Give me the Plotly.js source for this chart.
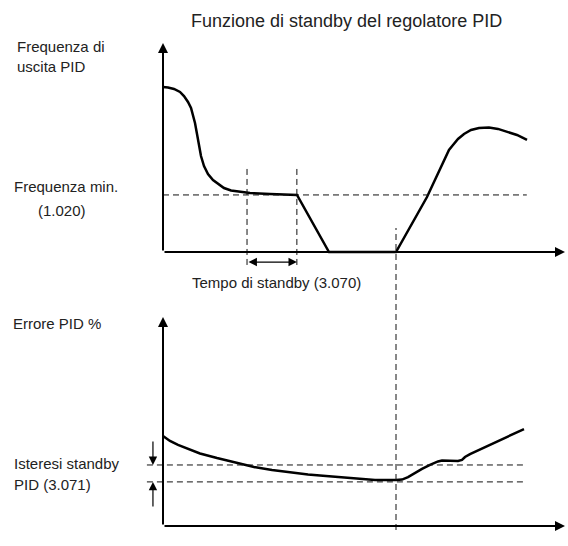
<!DOCTYPE html>
<html>
<head>
<meta charset="utf-8">
<script src="https://cdn.plot.ly/plotly-3.0.1.min.js"></script>
<style>html,body{margin:0;padding:0;background:#fff;}#chart{width:568px;height:546px;}</style>
</head>
<body>
<div id="chart"></div>
<script>
// ---- Data (abstract time units 0..100, values 0..100) ----
const freqTime = [0, 1.24, 2.74, 4.23, 5.22, 6.22, 6.97, 7.46, 7.96, 8.46, 8.96, 9.45, 10.2, 11.19, 12.44, 13.68, 15.17, 16.92, 19.15, 21.64, 26.62, 33.33, 41.29, 57.96, 65.67, 71.14, 72.14, 73.38, 74.88, 76.62, 78.61, 81.09, 83.33, 85.57, 88.06, 90.55];
const freqValue = [78.9, 78.7, 78.0, 76.6, 74.6, 71.8, 68.9, 65.6, 61.7, 56.5, 50.7, 45.9, 41.1, 37.3, 34.4, 32.5, 30.6, 29.4, 28.7, 28.2, 27.8, 27.3, 0, 0, 26.3, 48.8, 51.2, 54.1, 56.5, 58.4, 59.3, 59.6, 58.9, 57.7, 56.0, 53.6];

const errTime = [0, 1.74, 3.73, 6.22, 9.2, 13.43, 17.91, 22.64, 27.11, 31.59, 36.07, 40.55, 45.02, 49.5, 52.74, 57.96, 59.45, 60.95, 62.69, 64.43, 66.42, 68.41, 69.4, 71.39, 73.38, 74.38, 75.12, 76.37, 80.1, 83.83, 86.82, 89.8];
const errValue = [43.1, 40.7, 38.8, 36.8, 34.7, 32.5, 30.4, 28.2, 26.8, 25.6, 24.6, 23.9, 23.2, 22.5, 22.0, 22.0, 22.2, 23.4, 25.4, 27.3, 29.2, 30.9, 31.3, 31.3, 31.1, 31.6, 33.0, 34.4, 37.8, 41.1, 43.8, 46.4];

const freqMin = 27.3;          // Frequenza min. (1.020)
const standbyStart = 20.9;     // start of standby time
const standbyEnd = 33.3;       // end of standby time (3.070)
const wakeTime = 57.96;        // wake-up instant
const hystUpper = 29.2;        // upper hysteresis level
const hystLower = 21.1;        // lower hysteresis level (3.071)
const lineEnd = 90.5;

const labels = {
  title: "Funzione di standby del regolatore PID",
  freqAxis1: "Frequenza di",
  freqAxis2: "uscita PID",
  fmin1: "Frequenza min.",
  fmin2: "(1.020)",
  standby: "Tempo di standby (3.070)",
  errAxis: "Errore PID %",
  hyst1: "Isteresi standby",
  hyst2: "PID (3.071)"
};

// ---- Layout geometry ----
const W = 568, H = 546;
const pxPerT = 4.02, x0px = 163;
const xRange = [-x0px / pxPerT, (W - x0px) / pxPerT];
const pxPerV = 2.09;
const yTopRange = [-(273 - 252) / pxPerV, 252 / pxPerV];
const yBotRange = [-(546 - 526) / pxPerV, (526 - 273) / pxPerV];

const py = p => 1 - p / H;
const font = {family: "Liberation Sans, Arial, sans-serif", size: 15, color: "#222"};

const traces = [
  {x: freqTime, y: freqValue, xaxis: 'x', yaxis: 'y', mode: 'lines',
   line: {color: '#000', width: 2.5}, hoverinfo: 'skip'},
  {x: errTime, y: errValue, xaxis: 'x', yaxis: 'y2', mode: 'lines',
   line: {color: '#000', width: 2.5}, hoverinfo: 'skip'}
];

const dash = {color: '#111', width: 1, dash: '6px,4px'};
const shapes = [
  {type: 'line', xref: 'x', yref: 'y', x0: 0, x1: lineEnd, y0: freqMin, y1: freqMin, line: dash},
  {type: 'line', xref: 'x', yref: 'y', x0: standbyStart, x1: standbyStart, y0: -6.2, y1: 41.6, line: dash},
  {type: 'line', xref: 'x', yref: 'y', x0: standbyEnd, x1: standbyEnd, y0: -6.2, y1: 41.6, line: dash},
  {type: 'line', xref: 'x', yref: 'paper', x0: wakeTime, x1: wakeTime, y0: py(530), y1: py(228), line: dash},
  {type: 'line', xref: 'x', yref: 'y2', x0: -4, x1: lineEnd, y0: hystUpper, y1: hystUpper, line: dash},
  {type: 'line', xref: 'x', yref: 'y2', x0: -4, x1: lineEnd, y0: hystLower, y1: hystLower, line: dash}
];

function arrow(xref, yref, x, y, ax, ay, w, side) {
  return {xref: xref, yref: yref, axref: xref, ayref: yref, x: x, y: y, ax: ax, ay: ay,
          text: '', showarrow: true, arrowhead: 2, arrowsize: w > 1.5 ? 1 : 1.4, arrowwidth: w,
          arrowcolor: '#000', arrowside: side || 'end', standoff: 0, startstandoff: 0};
}
function label(text, xpx, ypx, anchor, size) {
  return {xref: 'paper', yref: 'paper', x: xpx / W, y: py(ypx), text: text, showarrow: false,
          xanchor: anchor || 'left', yanchor: 'middle', font: Object.assign({}, font, size ? {size: size} : {})};
}

const annotations = [
  arrow('x', 'y', 0, 100, 0, 0, 2),
  arrow('x', 'y', 100, 0, 0, 0, 2),
  arrow('x', 'y2', 0, 100, 0, 0, 2),
  arrow('x', 'y2', 100, 0, 0, 0, 2),
  arrow('x', 'y', standbyEnd, -4.8, standbyStart, -4.8, 1.2, 'end+start'),
  arrow('x', 'y2', -2.5, hystUpper, -2.5, hystUpper + 12, 1.2),
  arrow('x', 'y2', -2.5, hystLower, -2.5, hystLower - 12.5, 1.2),
  label(labels.title, 346, 21, 'center', 18),
  label(labels.freqAxis1, 15, 46),
  label(labels.freqAxis2, 15, 66),
  label(labels.fmin1, 12, 186),
  label(labels.fmin2, 36, 211),
  label(labels.standby, 276, 282, 'center'),
  label(labels.errAxis, 11, 323),
  label(labels.hyst1, 12, 463),
  label(labels.hyst2, 12, 484)
];

const layout = {
  width: W, height: H,
  margin: {l: 0, r: 0, t: 0, b: 0, pad: 0},
  paper_bgcolor: '#fff', plot_bgcolor: '#fff',
  showlegend: false,
  xaxis: {domain: [0, 1], range: xRange, visible: false, fixedrange: true},
  yaxis: {domain: [0.5, 1], range: yTopRange, visible: false, fixedrange: true},
  yaxis2: {domain: [0, 0.5], range: yBotRange, visible: false, fixedrange: true},
  shapes: shapes,
  annotations: annotations
};

Plotly.newPlot('chart', traces, layout, {displayModeBar: false, staticPlot: true});
</script>
</body>
</html>
